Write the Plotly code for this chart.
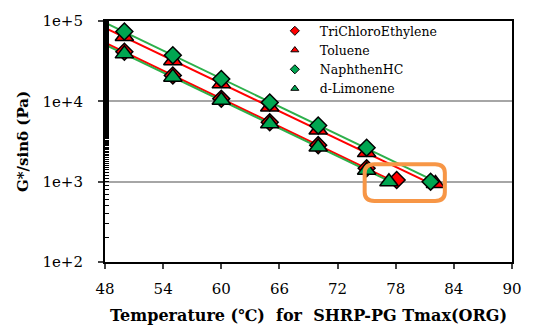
import numpy as np
import plotly.graph_objects as go

temps = [50, 55, 60, 65, 70, 75]

tce_vals = [41500, 21000, 10800, 5500, 2850, 1470]
tol_vals = [64000, 32000, 16500, 8500, 4400, 2300]
nap_vals = [74000, 37500, 19000, 9700, 5000, 2650]
lim_vals = [39000, 20000, 10300, 5250, 2700, 1390]

# temperature where G*/sin(delta) reaches 1 kPa
tce_end = [78.1, 1050]
tol_end = [82.1, 950]
nap_end = [81.6, 1000]
lim_end = [77.3, 1000]

x_ticks = [48, 54, 60, 66, 72, 78, 84, 90]
y_ticks = [100, 1000, 10000, 100000]
y_tick_text = ["1e+2", "1e+3", "1e+4", "1e+5"]

RED = "#FF0000"
GREEN = "#00A651"
GREEN_LINE = "#2DB04B"
FONT = "DejaVu Serif"

series = [
    ("TriChloroEthylene", tce_vals, tce_end, RED, RED, "diamond", 13),
    ("Toluene", tol_vals, tol_end, RED, RED, "triangle-up", 16),
    ("NaphthenHC", nap_vals, nap_end, GREEN, GREEN_LINE, "diamond", 13),
    ("d-Limonene", lim_vals, lim_end, GREEN, GREEN_LINE, "triangle-up", 16),
]

fig = go.Figure()

# trend lines (log-linear fit of measured points), from 48 to 1 kPa temperature
for name, vals, end, mcol, lcol, sym, sz in series:
    t = np.array(temps, dtype=float)
    lv = np.log10(np.array(vals, dtype=float))
    slope, icpt = np.polyfit(t, lv, 1)
    xs = np.array([48.0, end[0]])
    ys = 10 ** (icpt + slope * xs)
    fig.add_trace(go.Scatter(x=xs, y=ys, mode="lines",
                             line=dict(color=lcol, width=2),
                             showlegend=False, hoverinfo="skip"))

for name, vals, end, mcol, lcol, sym, sz in series:
    fig.add_trace(go.Scatter(x=temps + [end[0]], y=vals + [end[1]], mode="markers",
                             marker=dict(symbol=sym, size=sz, color=mcol,
                                         line=dict(color="black", width=1.5)),
                             showlegend=False, name=name))

# small legend markers
for name, vals, end, mcol, lcol, sym, sz in series:
    fig.add_trace(go.Scatter(x=[None], y=[None], mode="markers", name=name,
                             marker=dict(symbol=sym, size=7, color=mcol,
                                         line=dict(color="black", width=1))))

fig.add_shape(type="path", xref="paper", yref="paper",
              path="M 0.662,0.406 L 0.811,0.406 Q 0.835,0.406 0.835,0.370 L 0.835,0.289 "
                   "Q 0.835,0.253 0.811,0.253 L 0.662,0.253 Q 0.638,0.253 0.638,0.289 "
                   "L 0.638,0.370 Q 0.638,0.406 0.662,0.406 Z",
              line=dict(color="#F79646", width=4))

fig.update_layout(
    width=534, height=334,
    margin=dict(l=105, r=17, t=19, b=66),
    paper_bgcolor="white", plot_bgcolor="white",
    font=dict(family=FONT, color="black", size=15),
    legend=dict(x=0.405, y=1.02, xanchor="left", yanchor="top",
                font=dict(family=FONT, size=12.5), bgcolor="rgba(0,0,0,0)",
                itemwidth=40, tracegroupgap=0),
    xaxis=dict(range=[48, 90], tickvals=x_ticks, ticks="outside", ticklen=5,
               tickwidth=1.5, showline=True, linecolor="black", linewidth=2,
               mirror=True, showgrid=False, zeroline=False,
               tickfont=dict(family=FONT, size=15), ticklabelstandoff=7,
               title=dict(text="<b>Temperature (℃)  for  SHRP-PG Tmax(ORG)</b>",
                          font=dict(family=FONT, size=16), standoff=13)),
    yaxis=dict(type="log", range=[2, 5], tickvals=y_ticks, ticktext=y_tick_text,
               ticks="outside", ticklen=5, tickwidth=1.5,
               showline=True, linecolor="black", linewidth=2, mirror=True,
               showgrid=True, gridcolor="#A6A6A6", gridwidth=2, zeroline=False,
               tickfont=dict(family=FONT, size=15), ticklabelstandoff=12,
               minor=dict(ticks="inside", ticklen=4, tickwidth=1,
                          tickcolor="black", showgrid=False),
               title=dict(text="<b>G*/sinδ (Pa)</b>",
                          font=dict(family=FONT, size=15), standoff=10)),
)

fig.write_html("out.html")
